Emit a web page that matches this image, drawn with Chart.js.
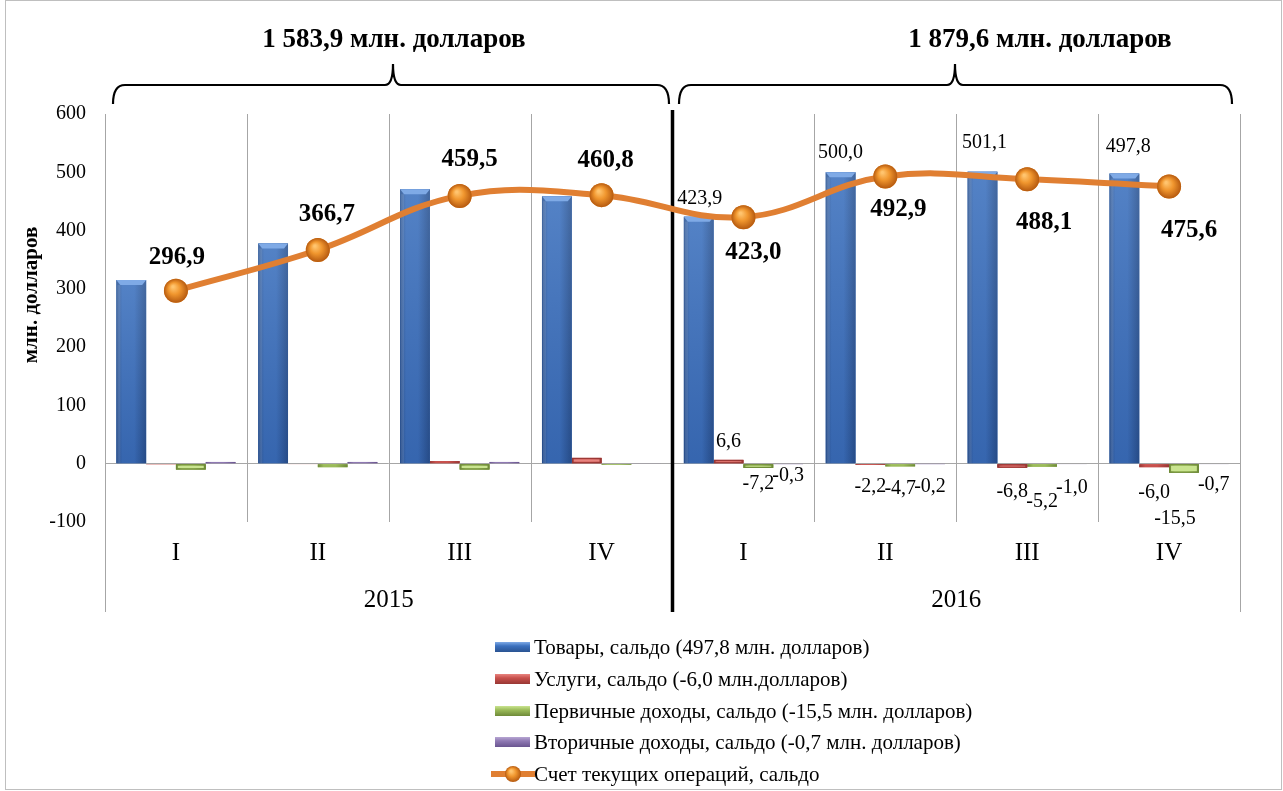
<!DOCTYPE html>
<html><head><meta charset="utf-8">
<script src="https://cdn.jsdelivr.net/npm/chart.js@4.4.1/dist/chart.umd.min.js"></script>
<style>
html,body{margin:0;padding:0;background:#fff;}
#wrap{position:relative;width:1283px;height:791px;}
canvas{display:block;}
</style></head><body>
<div id="wrap"><canvas id="c" width="1283" height="791"></canvas></div>
<script>
// ---- data ----
const quarters = ['I','II','III','IV','I','II','III','IV'];
const years = ['2015','2016'];
const yearTotals = ['1 583,9 млн. долларов','1 879,6 млн. долларов'];
const goods = [315, 378, 471, 459, 423.9, 500.0, 501.1, 497.8];
const services = [-1.5, -1, 4.5, 10, 6.6, -2.2, -6.8, -6.0];
const primaryIncome = [-10, -6, -10, -2, -7.2, -4.7, -5.2, -15.5];
const secondaryIncome = [3, 3, 3, 1, -0.3, -0.2, -1.0, -0.7];
const currentAccount = [296.9, 366.7, 459.5, 460.8, 423.0, 492.9, 488.1, 475.6];
const yMin = -100, yMax = 600, yStep = 100;
const seriesNames = [
  'Товары, сальдо (497,8 млн. долларов)',
  'Услуги, сальдо (-6,0 млн.долларов)',
  'Первичные доходы, сальдо (-15,5 млн. долларов)',
  'Вторичные доходы, сальдо (-0,7 млн. долларов)',
  'Счет текущих операций, сальдо'
];
const yTitle = 'млн. долларов';

// ---- styles ----
const SERIF = '"Liberation Serif", "Times New Roman", serif';
const barColors = [
  {base:'#3C71BE', light:'#7FAAE6', dark:'#2A5391'},
  {base:'#C8504C', light:'#E8847F', dark:'#983734'},
  {base:'#9BBB59', light:'#C9E48F', dark:'#6E8A38'},
  {base:'#8F79B3', light:'#B7A6D3', dark:'#6A5590'}
];
const lineColor = '#E07F32';
// label placement (pixel offsets from mark end), 2016 only for bars
const lineLabelOffsets = [[1,-33],[9,-35],[10,-36],[4,-35],[10,35],[13,33],[17,43],[20,44]];
const barLabelOffsets = [
  {4:[1,-18],5:[0,-20],6:[2,-29],7:[4,-27]},
  {4:[0,-18],5:[0,22],6:[0,24],7:[0,26]},
  {4:[0,16],5:[0,22],6:[0,35],7:[-9,46]},
  {4:[0,12],5:[0,23],6:[0,23],7:[0,21]}
];
const fmt = v => v.toFixed(1).replace('.', ',');

const decor = {
  id:'decor',
  beforeDatasetsDraw(chart){
    const {ctx, chartArea:a} = chart;
    const w = (a.right - a.left) / quarters.length;
    ctx.save();
    for (let i = 0; i <= quarters.length; i++) {
      const x = Math.round(a.left + i * w) + 0.5;
      if (i === 4) continue;
      ctx.strokeStyle = '#A6A6A6'; ctx.lineWidth = 1;
      ctx.beginPath();
      ctx.moveTo(x, a.top);
      ctx.lineTo(x, (i === 0 || i === quarters.length) ? 612 : a.bottom);
      ctx.stroke();
    }
    const xm = a.left + 4 * w;
    ctx.strokeStyle = '#000'; ctx.lineWidth = 3.5;
    ctx.beginPath(); ctx.moveTo(xm, 110); ctx.lineTo(xm, 612); ctx.stroke();
    ctx.restore();
  },
  afterDatasetDraw(chart, args){
    const meta = args.meta;
    const ctx = chart.ctx;
    if (meta.type === 'bar') {
      const c = barColors[args.index - 1];
      ctx.save();
      meta.data.forEach(el => {
        const p = el.getProps(['x','y','base','width'], true);
        const l = p.x - p.width/2, r = p.x + p.width/2;
        const top = Math.min(p.y, p.base), bot = Math.max(p.y, p.base);
        const h = bot - top;
        if (h < 0.5) return;
        const g = ctx.createLinearGradient(l, 0, r, 0);
        g.addColorStop(0, c.dark); g.addColorStop(0.2, c.base);
        g.addColorStop(0.6, c.base); g.addColorStop(1, c.dark);
        ctx.fillStyle = g;
        ctx.fillRect(l, top, p.width, h);
        if (h > 12) {
          const gv = ctx.createLinearGradient(0, top, 0, bot);
          gv.addColorStop(0, 'rgba(255,255,255,0.12)');
          gv.addColorStop(1, 'rgba(0,0,40,0.10)');
          ctx.fillStyle = gv; ctx.fillRect(l, top, p.width, h);
          ctx.fillStyle = c.light;
          ctx.beginPath();
          ctx.moveTo(l, top); ctx.lineTo(r, top); ctx.lineTo(r-4, top+5); ctx.lineTo(l+4, top+5);
          ctx.closePath(); ctx.fill();
          ctx.fillStyle = 'rgba(255,255,255,0.10)';
          ctx.fillRect(l+1, top+5, 3, h-5);
        } else if (h > 3) {
          ctx.fillStyle = c.light;
          ctx.fillRect(l+2, top+1.5, p.width-4, Math.max(1, h-3));
          ctx.strokeStyle = c.dark; ctx.lineWidth = 1;
          ctx.strokeRect(l+0.5, top+0.5, p.width-1, h-1);
        }
      });
      ctx.restore();
    } else if (meta.type === 'line') {
      ctx.save();
      meta.data.forEach(el => {
        const {x, y} = el.getProps(['x','y'], true);
        const r = 12;
        const g = ctx.createRadialGradient(x-3, y-4, 1, x, y, r);
        g.addColorStop(0, '#FFC46E'); g.addColorStop(0.45, '#F0962E');
        g.addColorStop(1, '#B65A10');
        ctx.fillStyle = g;
        ctx.beginPath(); ctx.arc(x, y, r, 0, Math.PI*2); ctx.fill();
      });
      ctx.restore();
    }
  },
  afterDraw(chart){
    const {ctx, chartArea:a} = chart;
    const xs = chart.scales.x;
    ctx.save();
    ctx.strokeStyle = '#BFBFBF'; ctx.lineWidth = 1;
    ctx.strokeRect(5.5, 0.5, 1276, 789);
    // y title
    ctx.save();
    ctx.translate(32, 295); ctx.rotate(-Math.PI/2);
    ctx.font = 'bold 21px ' + SERIF; ctx.fillStyle = '#000';
    ctx.textAlign = 'center'; ctx.textBaseline = 'middle';
    ctx.fillText(yTitle, 0, 0);
    ctx.restore();
    // category labels
    ctx.fillStyle = '#000'; ctx.textAlign = 'center'; ctx.textBaseline = 'middle';
    ctx.font = '25px ' + SERIF;
    quarters.forEach((q, i) => ctx.fillText(q, xs.getPixelForValue(i), 553));
    const w = (a.right - a.left) / quarters.length;
    years.forEach((yv, j) => ctx.fillText(yv, a.left + (j*4 + 2) * w, 600));
    // braces + totals
    const brace = (x1, x2, xm) => {
      ctx.beginPath();
      ctx.moveTo(x1, 104);
      ctx.quadraticCurveTo(x1, 85, x1 + 12, 85);
      ctx.lineTo(xm - 8, 85);
      ctx.quadraticCurveTo(xm, 85, xm, 64);
      ctx.quadraticCurveTo(xm, 85, xm + 8, 85);
      ctx.lineTo(x2 - 12, 85);
      ctx.quadraticCurveTo(x2, 85, x2, 104);
      ctx.stroke();
    };
    ctx.strokeStyle = '#000'; ctx.lineWidth = 2.2;
    brace(113, 669, 393);
    brace(679, 1232, 955);
    ctx.font = 'bold 27px ' + SERIF;
    ctx.fillText(yearTotals[0], 394, 40);
    ctx.fillText(yearTotals[1], 1040, 40);
    // line labels
    const lm = chart.getDatasetMeta(0);
    ctx.font = 'bold 25px ' + SERIF;
    lm.data.forEach((el, i) => {
      const o = lineLabelOffsets[i];
      ctx.fillText(fmt(currentAccount[i]), el.x + o[0], el.y + o[1]);
    });
    // bar labels
    const barData = [goods, services, primaryIncome, secondaryIncome];
    ctx.font = '20px ' + SERIF;
    barData.forEach((arr, s) => {
      const m = chart.getDatasetMeta(s + 1);
      Object.keys(barLabelOffsets[s]).forEach(k => {
        const i = +k, el = m.data[i], o = barLabelOffsets[s][k];
        ctx.fillText(fmt(arr[i]), el.x + o[0], el.y + o[1]);
      });
    });
    // legend
    const rows = [647, 679, 711, 742, 774];
    ctx.textAlign = 'left';
    ctx.font = '21px ' + SERIF;
    rows.forEach((ry, i) => {
      if (i < 4) {
        const c = barColors[i];
        const g = ctx.createLinearGradient(0, ry-5, 0, ry+5);
        g.addColorStop(0, c.light); g.addColorStop(0.4, c.base); g.addColorStop(1, c.dark);
        ctx.fillStyle = g;
        ctx.fillRect(495, ry - 5, 35, 10);
      } else {
        ctx.strokeStyle = lineColor; ctx.lineWidth = 6;
        ctx.beginPath(); ctx.moveTo(491, ry); ctx.lineTo(535, ry); ctx.stroke();
        const g = ctx.createRadialGradient(511, ry-3, 1, 513, ry, 8);
        g.addColorStop(0, '#FFC46E'); g.addColorStop(0.45, '#F0962E'); g.addColorStop(1, '#B65A10');
        ctx.fillStyle = g;
        ctx.beginPath(); ctx.arc(513, ry, 8, 0, Math.PI*2); ctx.fill();
      }
      ctx.fillStyle = '#000';
      ctx.fillText(seriesNames[i], 534, ry + 1);
    });
    ctx.restore();
  }
};

const barDs = (label, data, i) => ({
  type:'bar', label, data, order:1,
  backgroundColor: barColors[i].base, borderWidth:0,
  categoryPercentage:0.84, barPercentage:1.0
});

new Chart(document.getElementById('c'), {
  type:'bar',
  data:{
    labels: quarters,
    datasets:[
      {type:'line', label: seriesNames[4], data: currentAccount, order:0,
       borderColor: lineColor, borderWidth:6, tension:0.4, cubicInterpolationMode:'default',
       pointRadius:12, pointBackgroundColor:'#F0962E', pointBorderWidth:0, fill:false},
      barDs(seriesNames[0], goods, 0),
      barDs(seriesNames[1], services, 1),
      barDs(seriesNames[2], primaryIncome, 2),
      barDs(seriesNames[3], secondaryIncome, 3)
    ]
  },
  options:{
    responsive:false, animation:false, devicePixelRatio:1,
    layout:{padding:{top:114, right:43, bottom:269, left:0}},
    plugins:{legend:{display:false}, tooltip:{enabled:false}},
    scales:{
      x:{display:false, offset:true},
      y:{min:yMin, max:yMax,
         ticks:{stepSize:yStep, padding:19, color:'#000', font:{family:SERIF, size:20}},
         grid:{drawTicks:false, color: c => c.tick && c.tick.value === 0 ? '#A6A6A6' : 'rgba(0,0,0,0)'},
         border:{display:false},
         afterFit(s){ s.width = 105; }
      }
    }
  },
  plugins:[decor]
});
</script>
</body></html>
